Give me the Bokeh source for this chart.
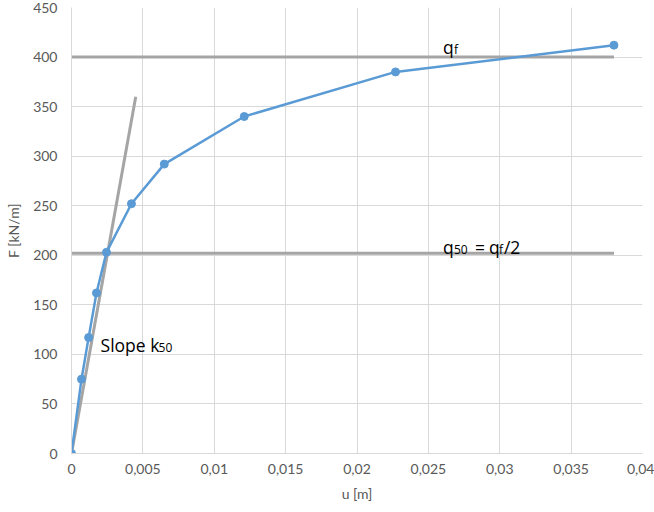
from bokeh.plotting import figure
from bokeh.models import FixedTicker, CustomJSTickFormatter, Range1d
from bokeh.core.properties import value
from bokeh.embed import file_html
from bokeh.resources import INLINE

# ---- data ----
u_vals = [0, 0.0007, 0.0012, 0.00175, 0.00245, 0.0042, 0.0065, 0.0121, 0.0227, 0.038]
F_vals = [0, 75, 117, 162, 203, 252, 292, 340, 385, 412]
qf_line_u = [0, 0.038]
qf_line_F = [400, 400]
q50_line_u = [0, 0.038]
q50_line_F = [202, 202]
slope_u = [0, 0.0045]
slope_F = [0, 360]
x_ticks = [0, 0.005, 0.01, 0.015, 0.02, 0.025, 0.03, 0.035, 0.04]
y_ticks = [0, 50, 100, 150, 200, 250, 300, 350, 400, 450]
x_title = "u [m]"
y_title = "F [kN/m]"

FONT = "Lato"
LFONT = "Open Sans"
BLUE = "#5B9BD5"
GREY = "#A5A5A5"
GRID = "#D9D9D9"
TXT = "#595959"

p = figure(width=654, height=512, output_backend="svg", toolbar_location=None,
           x_range=Range1d(0, 0.04), y_range=Range1d(0, 450),
           min_border_left=71, min_border_right=12, min_border_top=7, min_border_bottom=59)
p.outline_line_color = None
p.background_fill_color = "white"
p.border_fill_color = "white"

fmt = CustomJSTickFormatter(code="return String(parseFloat(tick.toFixed(6))).replace('.', ',');")
for ax, ticks in ((p.xaxis[0], x_ticks), (p.yaxis[0], y_ticks)):
    ax.ticker = FixedTicker(ticks=ticks)
    ax.formatter = fmt
    ax.major_tick_line_color = None
    ax.minor_tick_line_color = None
    ax.major_tick_out = 0
    ax.major_tick_in = 0
    ax.minor_tick_out = 0
    ax.minor_tick_in = 0
    ax.axis_line_color = GRID
    ax.major_label_text_font = FONT
    ax.major_label_text_font_size = "14px"
    ax.major_label_text_color = TXT
    ax.axis_label_text_font = FONT
    ax.axis_label_text_font_size = "14px"
    ax.axis_label_text_color = TXT
    ax.axis_label_text_font_style = "normal"

p.xaxis[0].axis_label = x_title
p.yaxis[0].axis_label = y_title
p.xaxis[0].major_label_standoff = 10
p.xaxis[0].axis_label_standoff = 8
p.yaxis[0].major_label_standoff = 14
p.yaxis[0].axis_label_standoff = 8

p.xgrid.ticker = FixedTicker(ticks=x_ticks)
p.ygrid.ticker = FixedTicker(ticks=y_ticks)
p.xgrid.grid_line_color = GRID
p.ygrid.grid_line_color = GRID

# grey reference lines
p.line(qf_line_u, qf_line_F, line_color=GREY, line_width=3)
p.line(q50_line_u, q50_line_F, line_color=GREY, line_width=3)
p.line(slope_u, slope_F, line_color=GREY, line_width=3)

# data series
p.line(u_vals, F_vals, line_color=BLUE, line_width=2.5)
p.scatter(u_vals, F_vals, size=8, fill_color=BLUE, line_color=BLUE)

# labels (mixed sizes)
def px2u(px):
    return (px - 71) * 0.005 / 71.3

def px2F(py):
    return (453 - py) / 0.992

def seg(txt, px, py, size):
    p.text(x=[px2u(px)], y=[px2F(py)], text=[txt], text_font=value(LFONT),
           text_font_size=size, text_color="black", text_align="left",
           text_baseline="alphabetic")

BIG = "17.5px"
SMALL = "12px"
D = 3  # shift small segments down onto the big text's baseline
# qf
seg("q", 442, 46, BIG)
seg("f", 453, 46 + D, SMALL)
# q50 = qf/2
seg("q", 442, 246, BIG)
seg("50", 453, 246 + D, SMALL)
seg("=", 474, 246, BIG)
seg("q", 488, 246, BIG)
seg("f", 498, 246 + D, SMALL)
seg("/2", 503, 246, BIG)
# Slope k50
seg("Slope k", 100, 344, BIG)
seg("50", 158, 344 + D, SMALL)

open("out.html", "w").write(file_html(p, INLINE))
